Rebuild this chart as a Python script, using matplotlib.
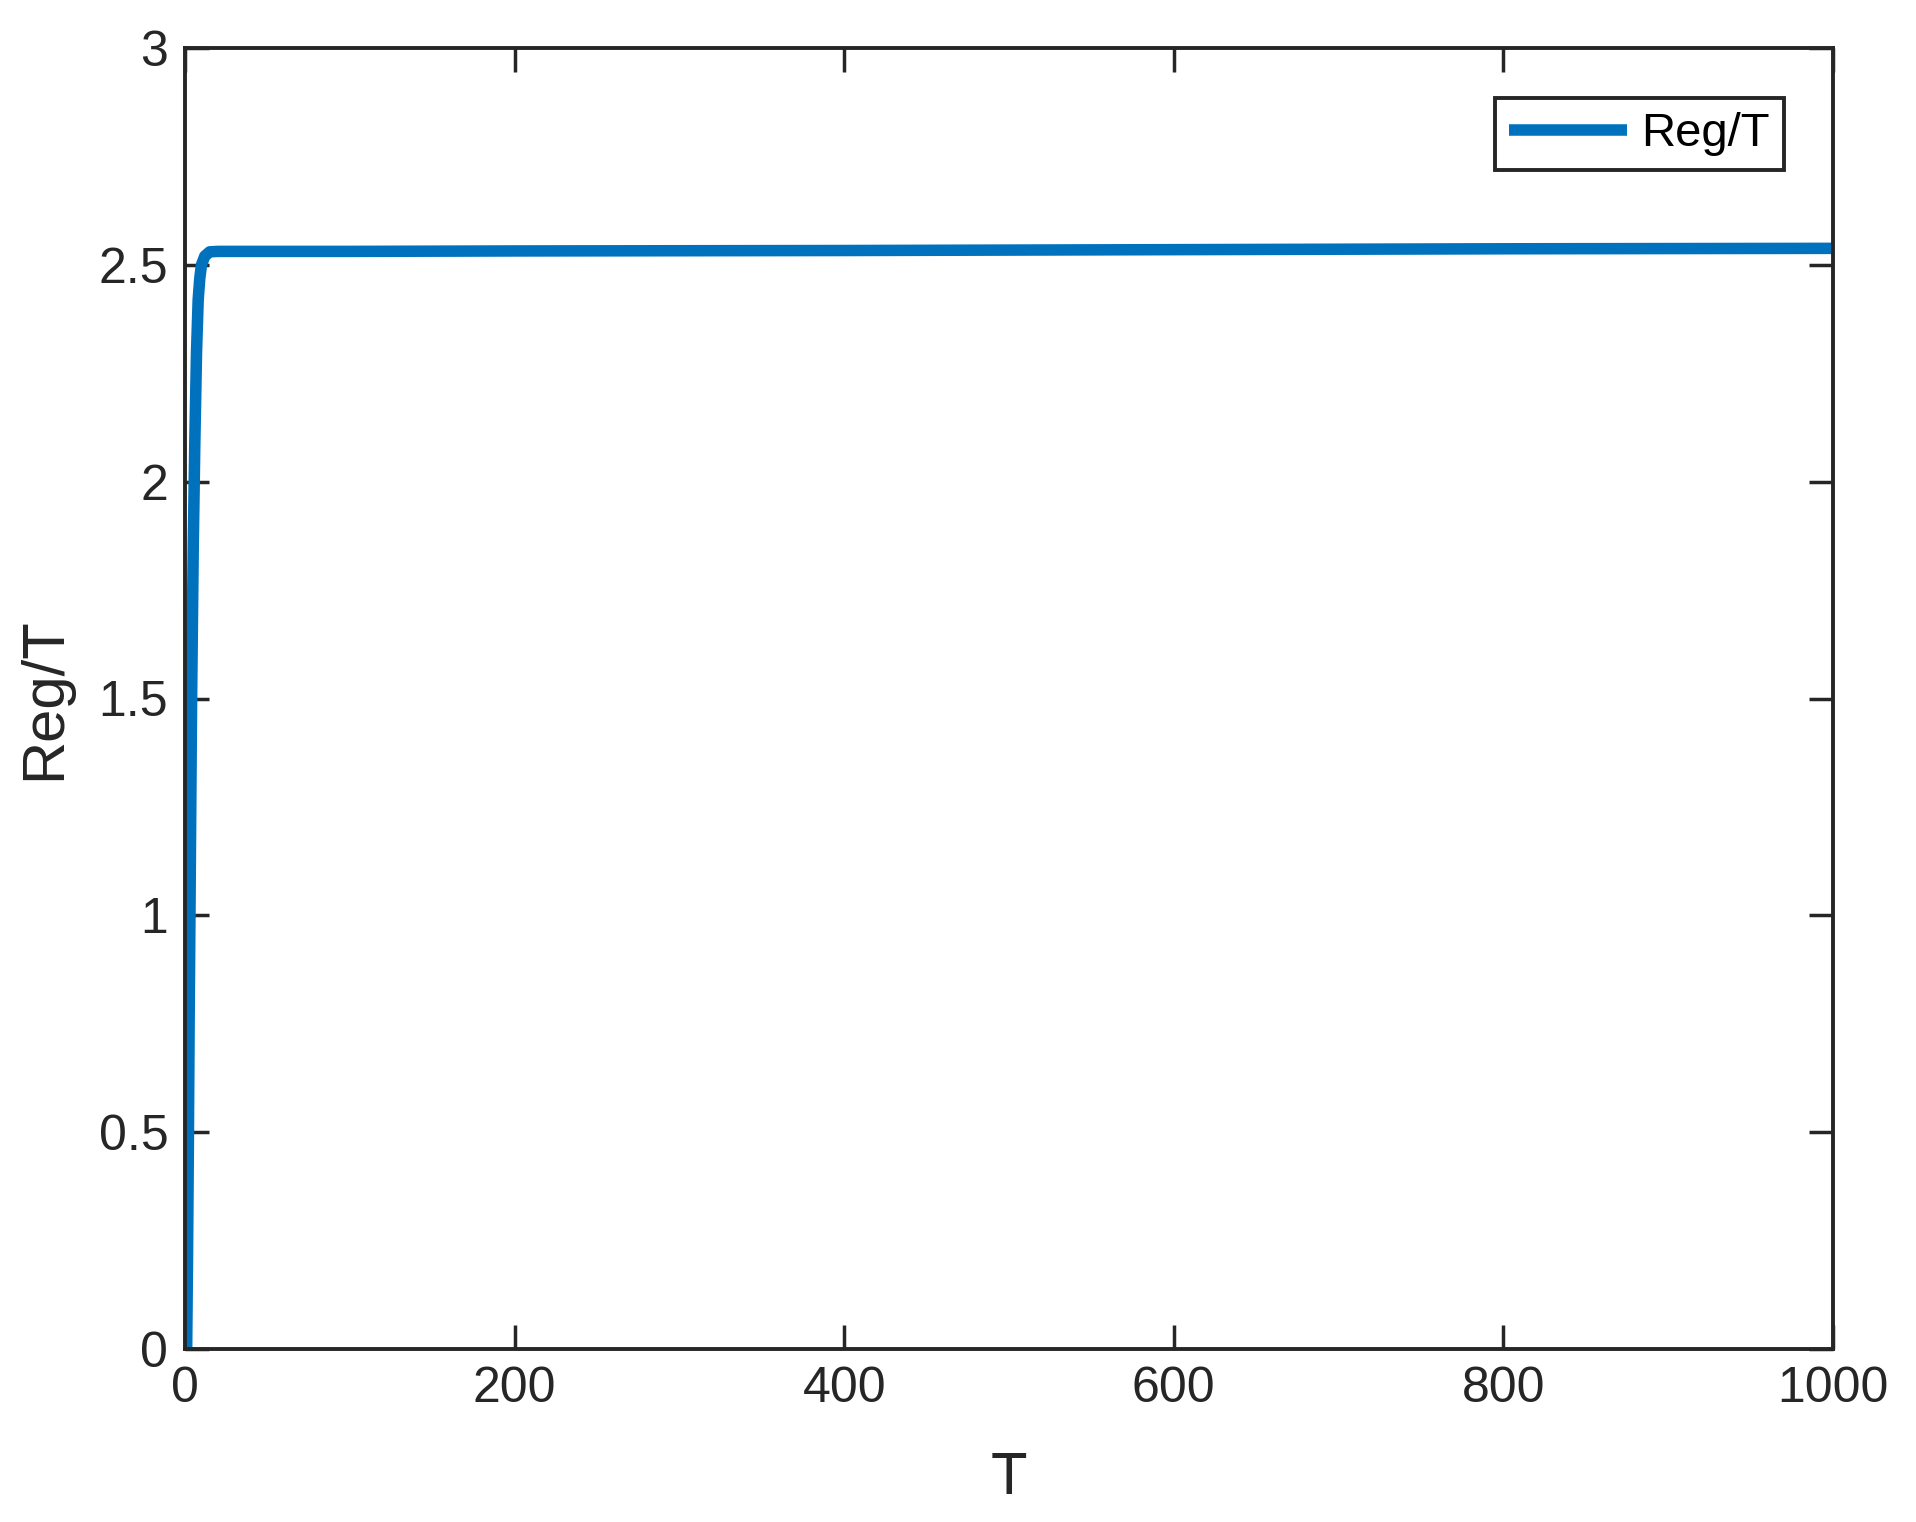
import matplotlib
matplotlib.use('Agg')
import matplotlib.pyplot as plt

# Reg/T against T
T = [1, 1.5, 2, 2.5, 3, 3.5, 4, 5, 6, 7, 8, 9, 10, 12, 15, 20, 50, 100, 200, 400, 600, 800, 1000]
reg_t = [0.0, 0.2, 0.45, 0.75, 1.0, 1.25, 1.5, 1.85, 2.1, 2.3, 2.42, 2.47, 2.5, 2.52, 2.53, 2.531,
         2.531, 2.531, 2.532, 2.533, 2.535, 2.537, 2.538]

x_ticks = [0, 200, 400, 600, 800, 1000]
y_ticks = [0, 0.5, 1, 1.5, 2, 2.5, 3]
y_tick_labels = ['0', '0.5', '1', '1.5', '2', '2.5', '3']

plt.rcParams['font.family'] = ['Liberation Sans', 'DejaVu Sans']
texto = '#262626'

fig = plt.figure(figsize=(19.16, 15.22), dpi=100)
ax = fig.add_axes([185 / 1916, 1 - 1349 / 1522, (1833 - 185) / 1916, (1349 - 48) / 1522])

ax.plot(T, reg_t, color='#0072BD', linewidth=8.3, label='Reg/T', solid_capstyle='butt')

ax.set_xlim(0, 1000)
ax.set_ylim(0, 3)
ax.set_xticks(x_ticks)
ax.set_xticklabels([str(v) for v in x_ticks])
ax.set_yticks(y_ticks)
ax.set_yticklabels(y_tick_labels)

ax.tick_params(direction='in', length=17, width=2.5, labelsize=36, colors=texto,
               top=True, right=True, pad=12)
for s in ax.spines.values():
    s.set_linewidth(2.8)
    s.set_color(texto)

ax.set_xlabel('T', fontsize=43, color=texto, labelpad=28)
ax.set_ylabel('Reg/T', fontsize=43, color=texto, labelpad=19)

leg = ax.legend(loc='upper right', bbox_to_anchor=(1784 / 1916, 1 - 98 / 1522),
                bbox_transform=fig.transFigure, borderaxespad=0, fontsize=34,
                fancybox=False, framealpha=1, edgecolor=texto, handlelength=2.5,
                handletextpad=0.3, borderpad=0.3)
leg.get_frame().set_linewidth(2.8)

fig.savefig('out.png', dpi=100)
